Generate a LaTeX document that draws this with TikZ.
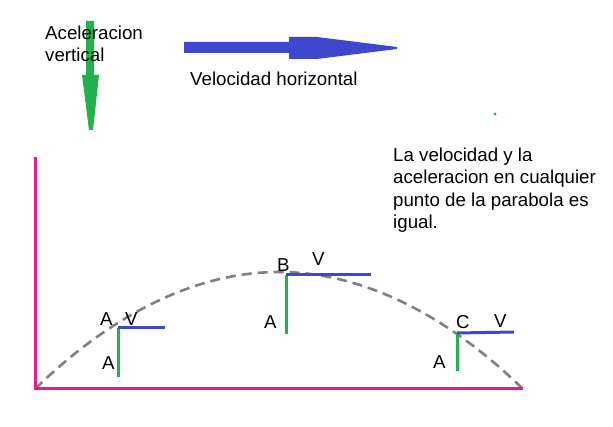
\documentclass[tikz,border=0pt]{standalone}
\usepackage{fontspec}
\setmainfont{Liberation Sans}
\usepackage{tikz}
\usetikzlibrary{positioning}

\definecolor{acgreen}{RGB}{34,177,76}
\definecolor{velblue}{RGB}{63,72,204}
\definecolor{axmag}{RGB}{233,24,150}
\definecolor{pathgray}{RGB}{128,128,128}

\tikzset{
  lbl/.style={font=\fontsize{18.7}{22.5}\selectfont, inner sep=0pt, anchor=base west},
  vecA/.style={draw=acgreen, line width=3pt},
  vecV/.style={draw=velblue, line width=3pt},
  axisline/.style={draw=axmag, line width=3pt},
}

\begin{document}
\begin{tikzpicture}[x=1pt, y=-1pt]
  \useasboundingbox (0,0) rectangle (613,427);
  % big legend arrows
  \fill[acgreen] (86,21) -- (94,21) -- (94,75) -- (99,75) -- (93,130) -- (89,130) -- (82,75) -- (86,75) -- cycle;
  \fill[velblue] (184,42) -- (289,42) -- (289,37) -- (317,37) -- (397,47) -- (397,49) -- (317,59) -- (289,59) -- (289,53) -- (184,53) -- cycle;
  \fill[acgreen] (495,114) circle (1.6);
  % multi-line nodes sit on the baseline of their last line
  \node[lbl, align=left] (acc) at (45,62) {Aceleracion\\vertical};
  \node[lbl] (velh) at (190,86) {Velocidad horizontal};
  \node[lbl, align=left] (note) at (393,229) {La velocidad y la\\aceleracion en cualquier\\punto de la parabola es\\igual.};
  % axes
  \coordinate (O) at (35,389);
  \coordinate (Ytop) at (35,157);
  \coordinate (Xend) at (523,389);
  % trajectory with apex near B
  \coordinate (apex) at (279,272);
  \draw[pathgray, line width=2.6pt, dash pattern=on 10pt off 6pt] (O) parabola bend (apex) (Xend);
  \draw[axisline] (Ytop) -- (O) -- (Xend);
  % points on the parabola, with end of V and end of A
  \coordinate (pA) at (118,328);  \coordinate (pAv) at (165,328); \coordinate (pAa) at (118,377);
  \coordinate (pB) at (286,275);  \coordinate (pBv) at (371,275); \coordinate (pBa) at (286,334);
  \coordinate (pC) at (457,333);  \coordinate (pCv) at (514,332); \coordinate (pCa) at (457,371);
  \foreach \p in {pA,pB,pC} {
    \draw[vecA] (\p) -- (\p a);
    \draw[vecV] (\p) -- (\p v);
  }
  % labels
  \node[lbl] (nA) at (100,326) {A};
  \node[lbl] (nAv) at (125,326) {V};
  \node[lbl] (nAa) at (102,370) {A};
  \node[lbl] (nB) at (277,272) {B};
  \node[lbl] (nBv) at (312,266) {V};
  \node[lbl] (nBa) at (264,329) {A};
  \node[lbl] (nC) at (456,329) {C};
  \node[lbl] (nCv) at (494,328) {V};
  \node[lbl] (nCa) at (433,369) {A};
\end{tikzpicture}
\end{document}
